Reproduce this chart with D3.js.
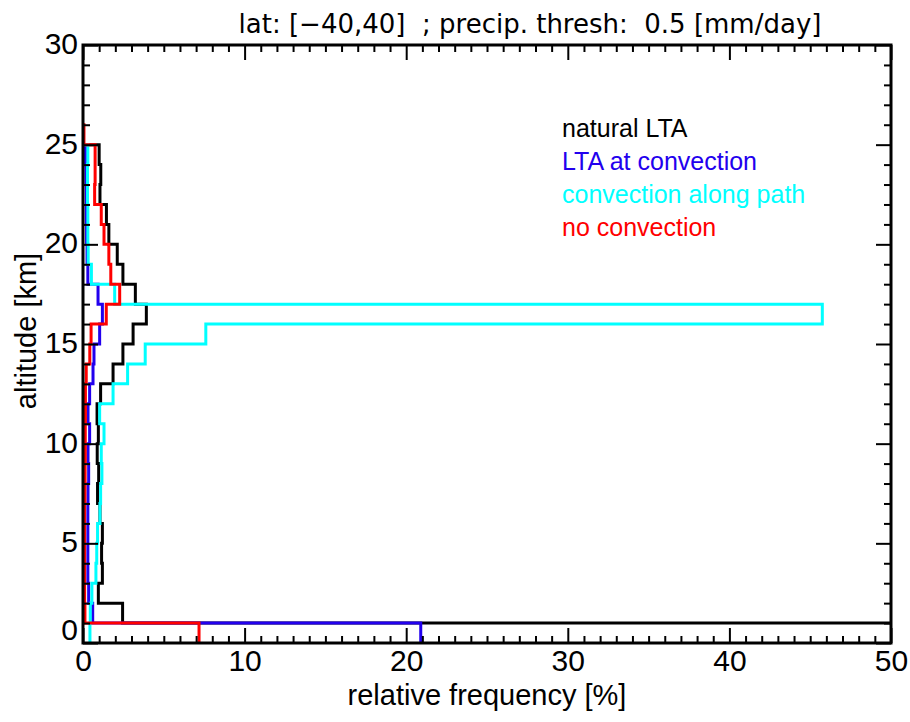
<!DOCTYPE html>
<html>
<head>
<meta charset="utf-8">
<script src="https://cdn.jsdelivr.net/npm/d3@7"></script>
<style>
  html, body { margin: 0; padding: 0; background: #fff; }
  svg { display: block; }
  text { font-family: "Liberation Sans", Arial, sans-serif; }
</style>
</head>
<body>
<svg id="chart" width="910" height="722"></svg>
<script>
// Altitude bins (lower edge in km), each bin 1 km wide
const binsNatural = [0,1,2,3,4,5,6,7,8,9,10,11,12,13,14,15,16,17,18,19,20,21,22,23,24];
// relative frequency [%] per bin, from bottom (0-1 km) upward
const naturalLTA = [62, 2.45, 0.95, 1.2, 1.15, 1.2, 1.05, 0.9, 0.97, 0.88, 0.95, 0.87, 1.09, 1.86, 2.47, 3.1, 3.92, 3.24, 2.47, 2.12, 1.6, 1.45, 1.05, 1.1, 1.0];
const ltaAtConvection = [20.9, 0.6, 0.35, 0.3, 0.3, 0.3, 0.3, 0.31, 0.35, 0.31, 0.41, 0.31, 0.41, 0.62, 0.68, 1.03, 1.2, 0.93, 0.3, 0.25, 0.22, 0.2, 0.2, 0.18, 0.15];
const convectionAlongPath = [0.43, 0.45, 0.55, 0.8, 0.85, 0.9, 1.05, 1.09, 1.17, 1.13, 1.3, 1.03, 1.86, 2.76, 3.85, 7.6, 45.75, 1.96, 0.52, 0.32, 0.3, 0.3, 0.28, 0.28, 0.3];
const noConvection = [7.18, 0.12, 0.1, 0.1, 0.1, 0.1, 0.1, 0.12, 0.13, 0.14, 0.14, 0.15, 0.15, 0.2, 0.42, 0.5, 1.44, 2.27, 1.72, 1.6, 1.3, 1.13, 0.72, 0.75, 0.75, 0.06];

const seriesNames = ["natural LTA", "LTA at convection", "convection along path", "no convection"];
const seriesColors = ["#000000", "#2200ee", "#00ffff", "#ff0000"];
const seriesValues = [naturalLTA, ltaAtConvection, convectionAlongPath, noConvection];

const xMajorTicks = [0, 10, 20, 30, 40, 50];
const yMajorTicks = [0, 5, 10, 15, 20, 25, 30];
const titleText = "lat: [\u221240,40]  ; precip. thresh:  0.5 [mm/day]";
const xTitle = "relative frequency [%]";
const yTitle = "altitude [km]";

const svg = d3.select("#chart");
const L = 83, R = 891, T = 45, B = 643;
const x = d3.scaleLinear().domain([0, 50]).range([L, R]);
const y = d3.scaleLinear().domain([0, 30]).range([B, T]);

svg.append("defs").append("clipPath").attr("id", "plotclip")
  .append("rect").attr("x", L).attr("y", T - 2).attr("width", R - L).attr("height", B - T + 2);

// step paths
function stepPoints(vals) {
  const n = vals.length;
  const pts = [[0, n]];
  for (let i = n - 1; i >= 0; i--) {
    pts.push([vals[i], i + 1]);
    pts.push([vals[i], i]);
  }
  return pts;
}
const line = d3.line().x(d => x(d[0])).y(d => y(d[1]));
const g = svg.append("g").attr("clip-path", "url(#plotclip)");
seriesValues.forEach((vals, k) => {
  g.append("path")
    .attr("d", line(stepPoints(vals)))
    .attr("fill", "none")
    .attr("stroke", seriesColors[k])
    .attr("stroke-width", 3)
    .attr("stroke-linejoin", "miter")
    .attr("stroke-linecap", "square");
});

// axes
const xMinor = d3.range(0, 51, 1).filter(v => v % 10 !== 0);
const yMinor = d3.range(0, 31, 1).filter(v => v % 5 !== 0);
const axFont = "30px";

function styleAxis(sel) {
  sel.select(".domain").remove();
  sel.selectAll(".tick line").attr("stroke", "#000").attr("stroke-width", 2);
  sel.selectAll(".tick text").attr("fill", "#000").style("font-size", axFont)
    .style("font-family", "'Liberation Sans', Arial, sans-serif");
}

// bottom
svg.append("g").attr("transform", `translate(0,${B})`)
  .call(d3.axisBottom(x).tickValues(xMajorTicks).tickSizeInner(-15).tickSizeOuter(0).tickPadding(7).tickFormat(d3.format("d")))
  .call(styleAxis);
svg.append("g").attr("transform", `translate(0,${B})`)
  .call(d3.axisBottom(x).tickValues(xMinor).tickSizeInner(-7).tickSizeOuter(0).tickFormat(""))
  .call(styleAxis);
// top
svg.append("g").attr("transform", `translate(0,${T})`)
  .call(d3.axisTop(x).tickValues(xMajorTicks).tickSizeInner(-15).tickSizeOuter(0).tickFormat(""))
  .call(styleAxis);
svg.append("g").attr("transform", `translate(0,${T})`)
  .call(d3.axisTop(x).tickValues(xMinor).tickSizeInner(-7).tickSizeOuter(0).tickFormat(""))
  .call(styleAxis);
// left
const leftAx = svg.append("g").attr("transform", `translate(${L},0)`)
  .call(d3.axisLeft(y).tickValues(yMajorTicks).tickSizeInner(-15).tickSizeOuter(0).tickPadding(5).tickFormat(d3.format("d")))
  .call(styleAxis);
leftAx.selectAll(".tick text").attr("dy", "0.28em");
leftAx.selectAll(".tick text").filter(d => d === 0).attr("dy", "-0.12em");
svg.append("g").attr("transform", `translate(${L},0)`)
  .call(d3.axisLeft(y).tickValues(yMinor).tickSizeInner(-7).tickSizeOuter(0).tickFormat(""))
  .call(styleAxis);
// right
svg.append("g").attr("transform", `translate(${R},0)`)
  .call(d3.axisRight(y).tickValues(yMajorTicks).tickSizeInner(-15).tickSizeOuter(0).tickFormat(""))
  .call(styleAxis);
svg.append("g").attr("transform", `translate(${R},0)`)
  .call(d3.axisRight(y).tickValues(yMinor).tickSizeInner(-7).tickSizeOuter(0).tickFormat(""))
  .call(styleAxis);

// frame
svg.append("rect").attr("x", L).attr("y", T).attr("width", R - L).attr("height", B - T)
  .attr("fill", "none").attr("stroke", "#000").attr("stroke-width", 3);

// titles
svg.append("text").attr("x", 530).attr("y", 33).attr("text-anchor", "middle")
  .style("font-size", "26px").style("font-family", "'DejaVu Sans', sans-serif")
  .style("white-space", "pre").attr("xml:space", "preserve")
  .attr("fill", "#000").text(titleText);
svg.append("text").attr("x", (L + R) / 2).attr("y", 705).attr("text-anchor", "middle")
  .style("font-size", "29px").attr("fill", "#000").text(xTitle);
svg.append("text").attr("transform", `translate(36,331) rotate(-90)`).attr("text-anchor", "middle")
  .style("font-size", "29px").attr("fill", "#000").text(yTitle);

// legend
seriesNames.forEach((name, k) => {
  svg.append("text").attr("x", 562).attr("y", 137 + k * 33)
    .style("font-size", "25px").attr("fill", seriesColors[k]).text(name);
});
</script>
</body>
</html>
